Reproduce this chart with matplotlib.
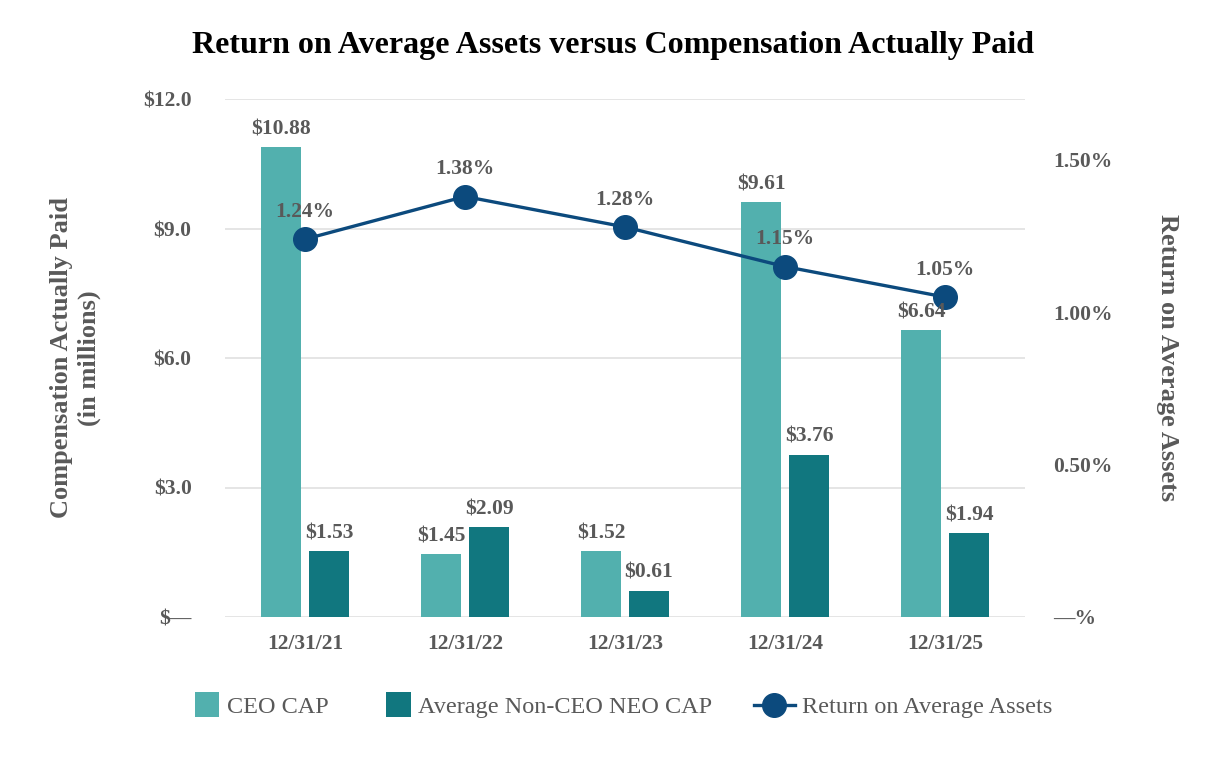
import matplotlib

matplotlib.use("Agg")
import matplotlib.pyplot as plt
from matplotlib.container import BarContainer
from matplotlib.legend_handler import HandlerPatch, update_from_first_child
from matplotlib.patches import Rectangle
import numpy as np

YEARS = ["12/31/21", "12/31/22", "12/31/23", "12/31/24", "12/31/25"]
CEO_CAP = [10.88, 1.45, 1.52, 9.61, 6.64]
NEO_CAP = [1.53, 2.09, 0.61, 3.76, 1.94]
ROAA = [1.24, 1.38, 1.28, 1.15, 1.05]

TEAL = "#52b0ae"
DARK_TEAL = "#11777f"
NAVY = "#0c4a7d"
GREY = "#595959"

plt.rcParams["font.family"] = ["Liberation Serif", "DejaVu Serif"]


def square_patch(legend, orig_handle, xdescent, ydescent, width, height, fontsize):
    # legend swatch drawn as a square, flush against the label text
    side = height * 1.45
    return Rectangle((-xdescent + width - side, -ydescent + (height - side) / 2), side, side)


fig = plt.figure(figsize=(12.26, 7.6), dpi=100)
ax = fig.add_axes([225 / 1226, 1 - 617 / 760, 800 / 1226, 518 / 760])
ax2 = ax.twinx()

x = np.arange(len(YEARS))
w = 0.25
b1 = ax.bar(x - 0.15, CEO_CAP, w, color=TEAL, label="CEO CAP", zorder=2)
b2 = ax.bar(x + 0.15, NEO_CAP, w, color=DARK_TEAL, label="Average Non-CEO NEO CAP", zorder=2)

ln, = ax2.plot(x, ROAA, "-o", color=NAVY, linewidth=2.4, markersize=17,
               label="Return on Average Assets", zorder=3)
for xi, v in zip(x, ROAA):
    ax2.text(xi, v + 0.057, f"{v:.2f}%", ha="center", va="bottom", fontsize=15.5,
             fontweight="bold", color=GREY, zorder=4)
# bar labels live on ax2 so they sit above the line markers
for bars in (b1, b2):
    for r in bars:
        ax2.text(r.get_x() + r.get_width() / 2, r.get_height() + 0.18, f"${r.get_height():.2f}",
                 transform=ax.transData, ha="center", va="bottom", fontsize=15.5,
                 fontweight="bold", color=GREY, zorder=5)

ax.set_xlim(-0.5, 4.5)
ax.set_ylim(0, 12)
ax2.set_ylim(0, 1.7)
ax.set_yticks([0, 3, 6, 9, 12])
ax.set_yticklabels(["$\u2014", "$3.0", "$6.0", "$9.0", "$12.0"])
ax2.set_yticks([0, 0.5, 1.0, 1.5])
ax2.set_yticklabels(["\u2014%", "0.50%", "1.00%", "1.50%"])
ax.set_xticks(x)
ax.set_xticklabels(YEARS)

ax.grid(axis="y", color="#e0e0e0", linewidth=1.2, zorder=0)
ax.set_axisbelow(True)
for a in (ax, ax2):
    for s in a.spines.values():
        s.set_visible(False)
    a.tick_params(length=0, labelsize=15.5, labelcolor=GREY)
    for t in a.get_xticklabels() + a.get_yticklabels():
        t.set_fontweight("bold")
ax.tick_params(axis="y", pad=24)
ax.tick_params(axis="x", pad=12)
ax2.tick_params(axis="y", pad=20)

ax.set_ylabel("Compensation Actually Paid\n(in millions)", fontsize=19, fontweight="bold",
              color=GREY, labelpad=30, linespacing=1.3)
ax2.set_ylabel("Return on Average Assets", fontsize=19, fontweight="bold", color=GREY,
               rotation=270, labelpad=48)

fig.text(0.5, 1 - 45 / 760, "Return on Average Assets versus Compensation Actually Paid",
         ha="center", va="center", fontsize=23, fontweight="bold", color="black")

fig.legend(handles=[b1, b2, ln], loc="center", bbox_to_anchor=(0.502, 1 - 707 / 760), ncol=3,
           frameon=False, fontsize=17.5, labelcolor=GREY, handlelength=1.7, handleheight=0.7,
           columnspacing=1.7, handletextpad=0.3,
           handler_map={BarContainer: HandlerPatch(patch_func=square_patch,
                                                   update_func=update_from_first_child)})

fig.savefig("out.png", dpi=100, facecolor="white")
